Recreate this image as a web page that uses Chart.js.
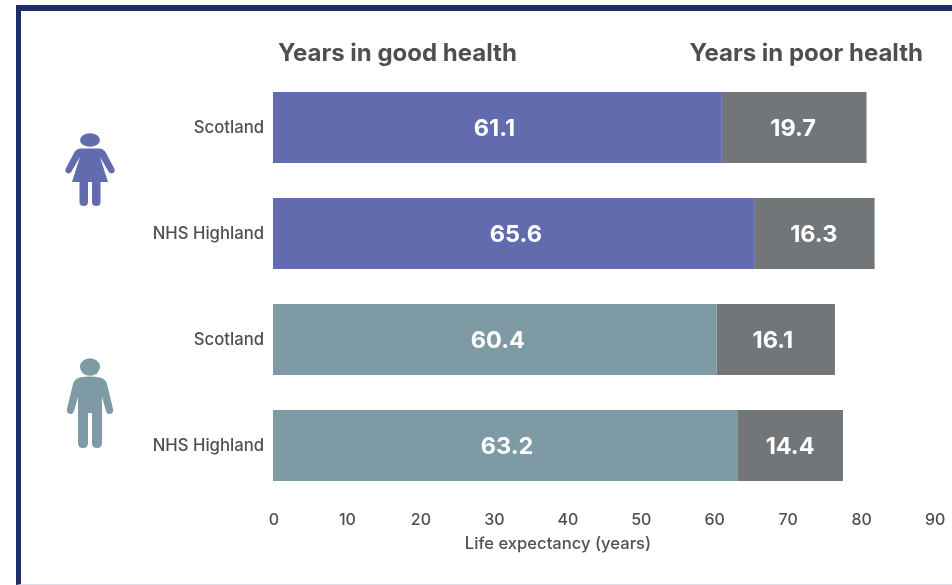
<!DOCTYPE html>
<html>
<head>
<meta charset="utf-8">
<script src="https://cdn.jsdelivr.net/npm/chart.js@4"></script>
<style>
  html, body { margin: 0; padding: 0; background: #fff; overflow: hidden; }
  #wrap { position: relative; width: 952px; height: 585px; }
  #frame { position: absolute; left: 16px; top: 5px; right: 0; bottom: 0; box-sizing: border-box;
           border-left: 5px solid #1f2d69; border-top: 6px solid #1f2d69; border-bottom: 1px solid #dcdde9; }
  canvas { position: absolute; left: 0; top: 0; }
  svg.icons { position: absolute; left: 0; top: 0; }
</style>
</head>
<body>
<div id="wrap">
  <div id="frame"></div>
  <canvas id="lifeChart" width="952" height="585"></canvas>
  <svg class="icons" width="952" height="585" viewBox="0 0 952 585">
    <!-- woman -->
    <g fill="#626bae">
      <ellipse cx="90" cy="140" rx="10" ry="6.7"/>
      <path d="M80,148.5 L100,148.5 Q104,149 106,153 L114.5,169 Q115.5,172 112,173.5 Q110,174 108.5,171.5 L100,157 L108,182 L72,182 L80,157 L71.5,171.5 Q70,174 68,173.5 Q64.5,172 65.5,169 L74,153 Q76,149 80,148.5 Z"/>
      <path d="M79.5,182 H88 V202 Q88,206 83.7,206 Q79.5,206 79.5,202 Z"/>
      <path d="M92,182 H100.5 V202 Q100.5,206 96.2,206 Q92,206 92,202 Z"/>
    </g>
    <!-- man -->
    <g fill="#7d9aa5">
      <ellipse cx="90" cy="367" rx="10" ry="8.7"/>
      <path d="M80,377.5 Q90,375.5 100,377.5 Q106,379 107,384 L113,409 Q114,413 110,414 Q107,414.5 106,411 L102,397 L102,443 Q102,448 97,448 Q92,448 92,443 L92,413 L88,413 L88,443 Q88,448 83,448 Q78,448 78,443 L78,397 L74,411 Q73,414.5 70,414 Q66,413 67,409 L73,384 Q74,379 80,377.5 Z"/>
    </g>
  </svg>
</div>
<script>
const categories = ['Scotland', 'NHS Highland', 'Scotland', 'NHS Highland'];
const goodHealth = [61.1, 65.6, 60.4, 63.2];
const poorHealth = [19.7, 16.3, 16.1, 14.4];
const xTicks = [0, 10, 20, 30, 40, 50, 60, 70, 80, 90];
const seriesNames = ['Years in good health', 'Years in poor health'];
const axisTitle = 'Life expectancy (years)';

const fontFamily = 'Inter, sans-serif';
const textColor = '#4d5051';

// the numbers sit slightly off centre in the original
const labelNudge = [[-3, 2, 3, 2], [-1, -1, -3, 0]];

// white numbers inside the bars
const barLabels = {
    id: 'barLabels',
    afterDatasetsDraw(chart) {
        const ctx = chart.ctx;
        ctx.save();
        ctx.fillStyle = '#fff';
        ctx.font = '700 23.5px ' + fontFamily;
        ctx.textAlign = 'center';
        ctx.textBaseline = 'middle';
        chart.data.datasets.forEach((ds, i) => {
            chart.getDatasetMeta(i).data.forEach((bar, j) => {
                const p = bar.getProps(['x', 'y', 'base']);
                ctx.fillText(ds.data[j].toFixed(1), (p.x + p.base) / 2 + labelNudge[i][j], p.y + 1);
            });
        });
        ctx.restore();
    }
};

// column headings over the bars, axis title under the ticks
const headings = {
    id: 'headings',
    afterDraw(chart) {
        const ctx = chart.ctx;
        ctx.save();
        ctx.fillStyle = textColor;
        ctx.font = '700 24px ' + fontFamily;
        ctx.textBaseline = 'middle';
        ctx.textAlign = 'left';
        ctx.fillText(seriesNames[0], 278, 54);
        ctx.textAlign = 'right';
        ctx.fillText(seriesNames[1], 923, 54);
        ctx.font = '500 16.6px ' + fontFamily;
        ctx.textAlign = 'center';
        ctx.fillText(axisTitle, 558, 544);
        ctx.restore();
    }
};

new Chart(document.getElementById('lifeChart'), {
    type: 'bar',
    data: {
        labels: categories,
        datasets: [{
            label: seriesNames[0],
            data: goodHealth,
            backgroundColor: ['#626bae', '#626bae', '#7d9aa5', '#7d9aa5']
        }, {
            label: seriesNames[1],
            data: poorHealth,
            backgroundColor: '#737678'
        }]
    },
    options: {
        indexAxis: 'y',
        responsive: false,
        animation: false,
        datasets: { bar: { barPercentage: 1, categoryPercentage: 0.67 } },
        layout: { padding: { top: 74.5, right: 17.9, left: 0, bottom: 0 } },
        plugins: {
            legend: { display: false },
            tooltip: { enabled: false }
        },
        scales: {
            x: {
                stacked: true,
                min: 0,
                max: 90,
                afterBuildTicks(axis) { axis.ticks = xTicks.map(v => ({ value: v })); },
                afterFit(axis) { axis.height = 86.5; },
                grid: { display: false },
                border: { display: false },
                ticks: {
                    color: textColor,
                    padding: 4,
                    labelOffset: 1,
                    maxRotation: 0,
                    font: { family: fontFamily, size: 16, weight: '500' }
                }
            },
            y: {
                stacked: true,
                afterFit(axis) { axis.width = 273; },
                grid: { display: false },
                border: { display: false },
                ticks: {
                    color: textColor,
                    padding: 1,
                    labelOffset: 0,
                    font: { family: fontFamily, size: 16.7, weight: '500' }
                }
            }
        }
    },
    plugins: [barLabels, headings]
});
</script>
</body>
</html>
